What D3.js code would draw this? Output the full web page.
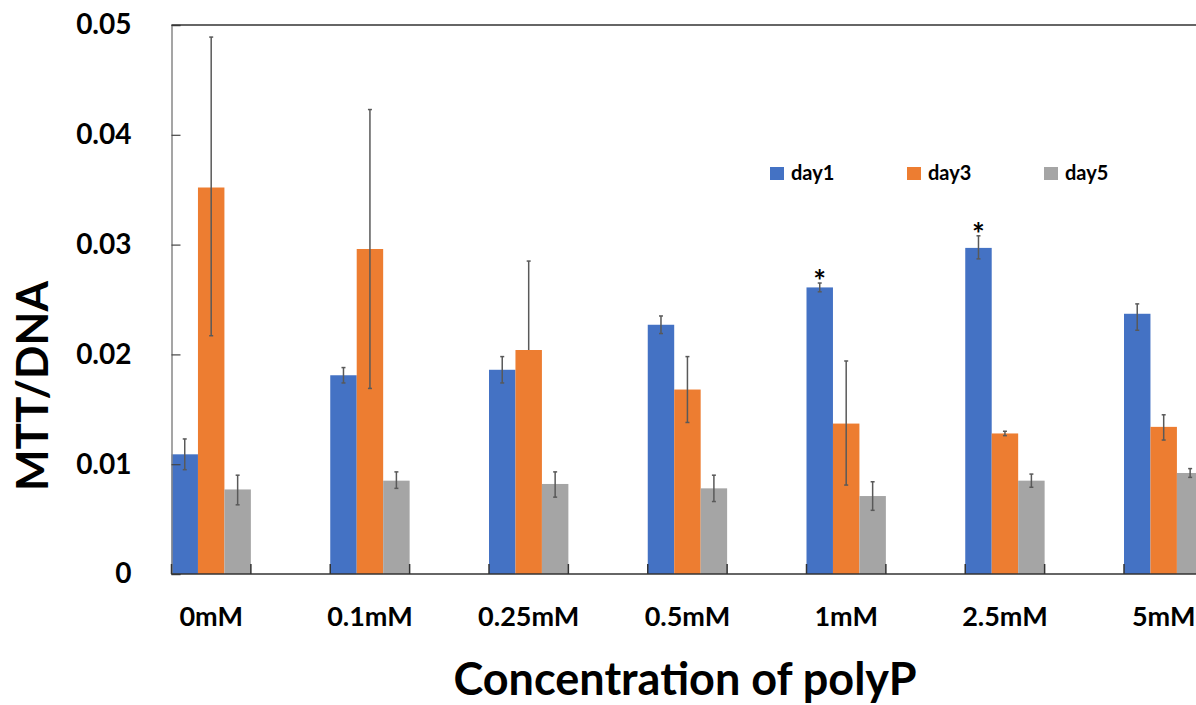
<!DOCTYPE html>
<html>
<head>
  <meta charset="UTF-8">
  <title>MTT/DNA</title>
  <style>
    body { margin: 0; background: #fff; }
    text { font-family: Lato, "Open Sans", sans-serif; font-weight: bold; }
  </style>
</head>
<body>
  <script src="https://cdn.jsdelivr.net/npm/d3@7"></script>
  <script>
    const width = 1196,
      height = 705

    // data
    const categories = ['0mM', '0.1mM', '0.25mM', '0.5mM', '1mM', '2.5mM', '5mM']
    const seriesNames = ['day1', 'day3', 'day5']
    const day1 = [0.0109, 0.0181, 0.0186, 0.0227, 0.0261, 0.0297, 0.0237]
    const day3 = [0.0352, 0.0296, 0.0204, 0.0168, 0.0137, 0.0128, 0.0134]
    const day5 = [0.0077, 0.0085, 0.0082, 0.0078, 0.0071, 0.0085, 0.0092]
    const day1ErrUp = [0.0014, 0.0007, 0.0012, 0.0008, 0.0004, 0.0011, 0.0009]
    const day1ErrDown = [0.0014, 0.0007, 0.0012, 0.0008, 0.0004, 0.0010, 0.0015]
    const day3ErrUp = [0.0137, 0.0127, 0.0081, 0.0030, 0.0057, 0.0002, 0.0011]
    const day3ErrDown = [0.0135, 0.0127, 0, 0.0030, 0.0056, 0.0002, 0.0012]
    const day5ErrUp = [0.0013, 0.0008, 0.0011, 0.0012, 0.0013, 0.0006, 0.0004]
    const day5ErrDown = [0.0014, 0.0007, 0.0012, 0.0012, 0.0013, 0.0006, 0.0004]
    const starred = ['1mM', '2.5mM'] // day1 marked with *
    const yTicks = [0, 0.01, 0.02, 0.03, 0.04, 0.05]
    const colors = ['#4472C4', '#ED7D31', '#A5A5A5']

    const values = [day1, day3, day5]
    const errUp = [day1ErrUp, day3ErrUp, day5ErrUp]
    const errDown = [day1ErrDown, day3ErrDown, day5ErrDown]

    const axisX = 171.5,
      yTop = 25,
      yBottom = 574

    const svg = d3.select('body')
      .append('svg')
      .attr('width', width)
      .attr('height', height)

    const x0 = d3.scaleBand()
      .domain(categories)
      .range([axisX, axisX + 158.75 * 6.5])
      .paddingInner(0.5)
      .paddingOuter(0)

    const x1 = d3.scaleBand()
      .domain(seriesNames)
      .range([0, x0.bandwidth()])

    const y = d3.scaleLinear()
      .domain([0, 0.05])
      .range([yBottom, yTop])

    const rows = []
    categories.forEach((c, i) => {
      seriesNames.forEach((s, j) => {
        rows.push({
          cat: c,
          series: s,
          color: colors[j],
          value: values[j][i],
          up: errUp[j][i],
          down: errDown[j][i]
        })
      })
    })

    // bars
    svg.append('g')
      .selectAll('rect')
      .data(rows).enter()
      .append('rect')
      .attr('x', d => x0(d.cat) + x1(d.series))
      .attr('y', d => y(d.value))
      .attr('width', x1.bandwidth())
      .attr('height', d => y(0) - y(d.value))
      .attr('fill', d => d.color)

    // error bars
    const errG = svg.append('g')
      .attr('stroke', '#595959')
      .attr('stroke-width', 1.5)
    const cx = d => x0(d.cat) + x1(d.series) + x1.bandwidth() / 2
    errG.selectAll('line.err')
      .data(rows).enter()
      .append('line')
      .attr('x1', cx).attr('x2', cx)
      .attr('y1', d => y(d.value + d.up))
      .attr('y2', d => y(d.value - d.down))
    errG.selectAll('line.capTop')
      .data(rows).enter()
      .append('line')
      .attr('x1', d => cx(d) - 2).attr('x2', d => cx(d) + 2)
      .attr('y1', d => y(d.value + d.up))
      .attr('y2', d => y(d.value + d.up))
    errG.selectAll('line.capBottom')
      .data(rows.filter(d => d.down > 0)).enter()
      .append('line')
      .attr('x1', d => cx(d) - 2).attr('x2', d => cx(d) + 2)
      .attr('y1', d => y(d.value - d.down))
      .attr('y2', d => y(d.value - d.down))

    // significance stars
    svg.append('g')
      .selectAll('text')
      .data(rows.filter(d => d.series === 'day1' && starred.includes(d.cat))).enter()
      .append('text')
      .attr('x', cx)
      .attr('y', d => y(d.value + d.up) + 9)
      .attr('text-anchor', 'middle')
      .attr('font-size', 30)
      .attr('font-family', '"DejaVu Sans", sans-serif')
      .attr('font-weight', 'normal')
      .text('*')

    // y axis
    const yAxis = d3.axisLeft(y)
      .tickValues(yTicks)
      .tickFormat(d => d === 0 ? '0' : d3.format('.2f')(d))
      .tickSize(-9)
      .tickPadding(40)
    const yg = svg.append('g')
      .attr('transform', `translate(${axisX}, 0)`)
      .call(yAxis)
    yg.select('.domain').attr('stroke', '#888').attr('stroke-width', 1.5)
    yg.selectAll('.tick line').attr('stroke', '#444').attr('stroke-width', 1.2)
    yg.selectAll('.tick text')
      .attr('font-size', 28)
      .attr('font-family', 'Lato, sans-serif')
      .attr('font-weight', 'bold')
      .attr('fill', '#000')

    // top border line
    svg.append('line')
      .attr('x1', axisX).attr('x2', width)
      .attr('y1', y(0.05)).attr('y2', y(0.05))
      .attr('stroke', '#333').attr('stroke-width', 1.5)

    // x axis
    svg.append('line')
      .attr('x1', axisX).attr('x2', width)
      .attr('y1', y(0)).attr('y2', y(0))
      .attr('stroke', '#333').attr('stroke-width', 1.5)

    const edges = []
    categories.forEach(c => {
      edges.push(x0(c), x0(c) + x0.bandwidth())
    })
    svg.append('g')
      .selectAll('line')
      .data(edges).enter()
      .append('line')
      .attr('x1', d => d).attr('x2', d => d)
      .attr('y1', y(0)).attr('y2', y(0) - 10)
      .attr('stroke', '#333').attr('stroke-width', 1.5)

    svg.append('g')
      .selectAll('text')
      .data(categories).enter()
      .append('text')
      .attr('x', d => x0(d) + x0.bandwidth() / 2)
      .attr('y', 626)
      .attr('text-anchor', 'middle')
      .attr('font-size', 27)
      .text(d => d)

    // axis titles
    svg.append('text')
      .attr('x', 685)
      .attr('y', 695)
      .attr('text-anchor', 'middle')
      .attr('font-size', 45)
      .text('Concentration of polyP')

    svg.append('text')
      .attr('transform', 'translate(48, 386) rotate(-90)')
      .attr('text-anchor', 'middle')
      .attr('font-size', 44)
      .text('MTT/DNA')

    // legend
    const legend = svg.append('g')
      .selectAll('g')
      .data(seriesNames).enter()
      .append('g')
      .attr('transform', (d, i) => `translate(${770 + i * 137}, 167)`)
    legend.append('rect')
      .attr('width', 14).attr('height', 13)
      .attr('fill', (d, i) => colors[i])
    legend.append('text')
      .attr('x', 21)
      .attr('y', 13)
      .attr('font-size', 20)
      .text(d => d)
  </script>
</body>
</html>
